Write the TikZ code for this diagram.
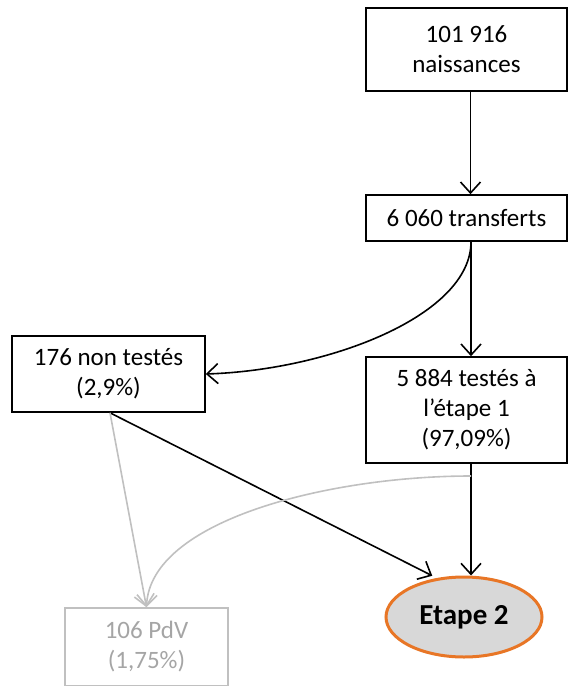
\documentclass[tikz,border=0pt]{standalone}
\usepackage{fontspec}
\setmainfont{Carlito}
\usetikzlibrary{arrows.meta,shapes.geometric,calc}
\definecolor{lgray}{RGB}{192,192,192}
\definecolor{tgray}{RGB}{165,165,165}
\definecolor{efill}{RGB}{216,216,216}
\definecolor{eorange}{RGB}{232,118,38}
\begin{document}
\begin{tikzpicture}[x=1bp,y=-1bp,
  box/.style={draw=black,line width=1.6bp,rectangle,inner sep=0pt,align=center,
    font=\fontsize{25bp}{30bp}\selectfont},
  gbox/.style={box,draw=lgray,text=tgray},
  conn/.style={line width=1.6bp,-{Straight Barb[length=11bp,width=20bp,line width=1.6bp]}},
  gconn/.style={conn,draw=lgray}]
\clip (0,0) rectangle (568,686);
\node[box,minimum width=201bp,minimum height=83bp] (n1) at (466.5,49.5) {101 916\\naissances};
\node[box,minimum width=201bp,minimum height=46bp] (n2) at (466.5,218) {6 060 transferts};
\node[box,minimum width=201bp,minimum height=106bp] (n3) at (466.5,410) {5 884 testés à\\l’étape 1\\(97,09\%)};
\node[box,minimum width=193bp,minimum height=76bp] (n4) at (108.5,374) {176 non testés\\(2,9\%)};
\node[gbox,minimum width=163bp,minimum height=78bp] (n5) at (146.5,647) {106 PdV\\(1,75\%)};
\node[ellipse,draw=eorange,fill=efill,line width=3bp,inner sep=0pt,minimum width=156bp,minimum height=80bp,
  font=\fontsize{29bp}{34bp}\selectfont\bfseries] (e2) at (464,617) {Etape 2};
\coordinate (g) at (471,476);
% black connectors
\draw[conn] ($(n1.south)+(4,0)$) -- ($(n2.north)+(4,0)$);
\draw[conn] ($(n2.south)+(4.5,0)$) -- ($(n3.north)+(4.5,0)$);
\draw[conn] ($(n2.south)+(4.5,0)$) .. controls (471,315) and (330,370) .. (n4.east);
\draw[conn] ($(n3.south)+(4.5,0)$) -- (e2.north -| {$(n3.south)+(4.5,0)$});
\draw[conn,shorten >=5bp] ($(n4.south)+(1.5,0)$) -- (e2.125);
% gray connectors
\draw[gconn] ($(n4.south)+(1.5,0)$) -- (n5.north);
\draw[gconn] (g) .. controls (330,476) and (150,520) .. (n5.north);
\end{tikzpicture}
\end{document}
